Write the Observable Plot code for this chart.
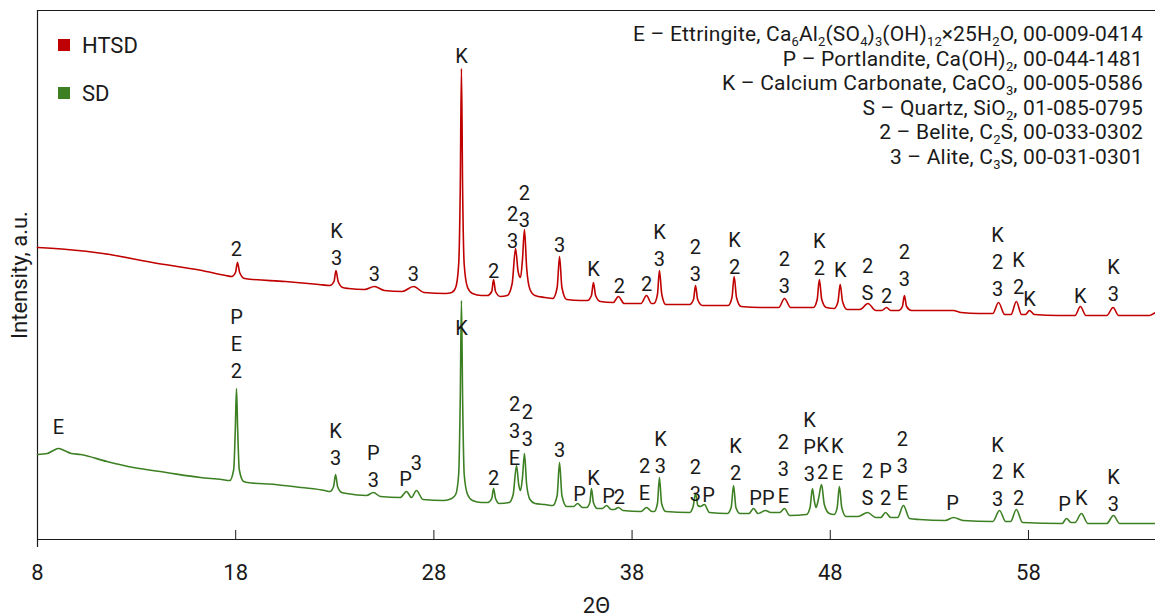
<!DOCTYPE html>
<html><head><meta charset="utf-8">
<script src="https://cdn.jsdelivr.net/npm/d3@7"></script>
<script src="https://cdn.jsdelivr.net/npm/@observablehq/plot@0.6"></script>
<style>
body{margin:0;background:#fff;}
#wrap{position:relative;width:1155px;height:616px;font-family:Roboto,sans-serif;color:#1a1a1a;overflow:hidden;background:#fff}
#wrap svg{position:absolute;left:0;top:0}
.key{position:absolute;left:58px;height:24px;display:flex;align-items:center;font-size:22px;}
.key i{display:inline-block;width:12px;height:12px;margin-right:12px}
#phases{position:absolute;right:12px;top:22px;text-align:right;font-size:21px;letter-spacing:0.2px;line-height:24.5px;white-space:nowrap}
#phases sub{font-size:0.62em;line-height:0;vertical-align:-0.35em;letter-spacing:0}
</style></head>
<body><div id="wrap"></div>
<script>
// ---- data (2Θ, intensity a.u.) ----
const xTicks = [8, 18, 28, 38, 48, 58];
const seriesNames = ["HTSD", "SD"];
const seriesColors = ["#c00000", "#3d8024"];

const htsdPattern = [
[8.0,292],[9.5,290],[11.3,286],[13.8,277],[16.3,269],[17.5,264],
[17.8,263],[17.99,267],[18.09,277],[18.2,267],[18.45,261],
[20.5,258],[22.2,255],
[22.75,254],[22.96,258],[23.06,269],[23.17,258],[23.4,252],
[23.7,251],[24.5,250],[25.0,253],[25.5,249],
[26.4,248],[26.97,253],[27.5,247],[28.6,246],
[28.9,247],[29.1,252],[29.25,275],[29.33,350],[29.39,471],[29.45,350],[29.53,275],[29.7,252],[29.95,246],
[30.4,244],
[30.7,244],[30.92,248],[31.01,260],[31.11,248],[31.35,243],
[31.7,244],[31.95,256],[32.12,291],[32.25,268],[32.37,262],[32.47,280],[32.57,310],[32.68,272],[32.85,250],[33.1,244],
[33.6,242],
[34.0,241],[34.22,252],[34.34,283],[34.46,252],[34.7,240],
[35.4,239],
[35.75,239],[35.95,244],[36.05,257],[36.16,244],[36.4,238],
[37.05,237],[37.31,243],[37.6,236],
[38.45,236],[38.73,244],[38.98,236],
[39.1,236],[39.28,245],[39.38,269],[39.5,245],[39.7,235],
[40.3,235],
[40.9,235],[41.1,240],[41.2,254],[41.31,240],[41.55,234],
[42.2,234],
[42.85,234],[43.04,242],[43.15,263],[43.27,242],[43.5,233],
[44.5,232],
[45.4,232],[45.69,241],[46.0,232],
[46.6,232],
[47.15,232],[47.34,240],[47.45,260],[47.57,240],[47.8,232],
[48.2,231],[48.39,238],[48.5,255],[48.62,238],[48.85,230],
[49.5,230],[49.9,236],[50.3,229],
[50.6,229],[50.84,232],[51.05,229],
[51.45,229],[51.64,233],[51.74,244],[51.85,233],[52.1,229],
[53.5,229],[54.2,229],[54.6,227],[55.5,226],
[56.2,226],[56.49,237],[56.8,225],
[57.12,225],[57.39,238],[57.65,225],
[57.85,225],[58.05,229],[58.3,225],
[59.5,224],
[60.35,224],[60.62,233],[60.9,224],
[61.95,224],[62.27,232],[62.55,224],
[63.5,224],[64.1,224],[64.41,227]
];

const sdPattern = [
[8.0,85],[8.5,86],[8.8,89],[9.06,91],[9.35,89],[9.7,86],[10.17,85],[11.5,78],[12.84,72],[14.5,67],[16.22,62],[17.3,60],
[17.7,59],[17.9,70],[17.98,110],[18.04,151],[18.1,110],[18.18,70],[18.4,58],
[18.6,57],[20.0,55],[21.3,52],[22.5,49],
[22.75,48],[22.94,53],[23.04,65],[23.14,53],[23.35,47],
[23.6,46],[24.6,44],[24.95,47],[25.3,43],
[26.3,42],[26.62,48],[26.87,42],[27.12,49],[27.45,40],
[28.5,39],
[28.9,41],[29.1,45],[29.25,65],[29.33,140],[29.39,239],[29.45,140],[29.53,65],[29.7,45],[29.95,39],
[30.4,37],
[30.72,37],[30.92,41],[31.01,51],[31.11,41],[31.3,36],
[31.8,37],[32.0,45],[32.17,74],[32.28,55],[32.37,49],[32.47,62],[32.57,86],[32.68,55],[32.85,40],[33.1,36],
[33.6,35],
[34.0,34],[34.22,44],[34.34,77],[34.46,44],[34.7,33],
[35.05,33],[35.25,36],[35.5,32],
[35.7,32],[35.87,37],[35.95,51],[36.05,37],[36.25,31],
[36.5,31],[36.71,34],[36.95,30],
[37.1,30],[37.31,32],[37.55,29],
[38.45,28],[38.73,32],[39.0,28],
[39.12,28],[39.28,36],[39.38,62],[39.49,36],[39.7,28],
[40.9,27],[41.08,33],[41.2,46],[41.32,34],[41.45,33],[41.65,35],[41.9,27],
[42.8,26],[43.0,32],[43.12,54],[43.24,32],[43.45,26],
[43.9,26],[44.13,31],[44.35,26],
[44.5,27],[44.73,29],[45.0,27],
[45.45,27],[45.69,31],[45.95,24],
[46.8,25],[46.98,32],[47.10,51],[47.2,38],[47.28,32],[47.4,40],[47.56,55],[47.7,35],[47.95,26],
[48.2,25],[48.35,32],[48.46,53],[48.58,32],[48.8,23],
[49.4,23],[49.88,27],[50.3,22],
[50.55,22],[50.79,27],[51.05,22],
[51.4,22],[51.69,34],[52.0,21],
[52.5,20],[53.8,19],[54.22,22],[54.7,19],
[56.2,18],[56.54,29],[56.85,18],
[57.1,18],[57.39,30],[57.7,17],
[59.7,16],[59.92,21],[60.15,17],
[60.35,17],[60.67,26],[61.0,16],
[61.95,16],[62.29,24],[62.6,16],
[64.41,16]
];

// peak labels: [2Θ, intensity of bottom line, text]
const htsdLabels = [
[18.04,291,"2"],[23.09,282,"K\n3"],[25.0,266,"3"],[26.97,266,"3"],[29.39,484,"K"],
[31.01,269,"2"],[31.97,299,"2\n3"],[32.57,320,"2\n3"],[34.34,295,"3"],[36.05,271,"K"],
[37.36,254,"2"],[38.73,256,"2"],[39.38,281,"K\n3"],[41.2,266,"2\n3"],[43.17,273,"K\n2"],
[45.69,254,"2\n3"],[47.45,272,"K\n2"],[48.51,270,"K"],[49.88,247,"2\nS"],[50.84,244,"2"],
[51.74,261,"2\n3"],[56.44,251,"K\n2\n3"],[57.5,253,"K\n2"],[58.05,241,"K"],[60.62,244,"K"],
[62.29,246,"K\n3"]
];
const sdLabels = [
[9.06,113,"E"],[18.04,169,"P\nE\n2"],[23.04,82,"K\n3"],[24.95,60,"P\n3"],[26.57,61,"P"],
[27.12,77,"3"],[29.39,212,"K"],[31.01,62,"2"],[32.07,82,"2\n3\nE"],[32.72,101,"2\n3"],
[34.34,90,"3"],[35.35,46,"P"],[36.05,62,"K"],[36.81,44,"P"],[37.36,43,"2"],
[38.63,47,"2\nE"],[39.43,74,"K\n3"],[41.2,46,"2\n3"],[41.86,45,"P"],[43.22,67,"K\n2"],
[44.23,42,"P"],[44.88,42,"P"],[45.64,44,"2\n3\nE"],[46.95,66,"K\nP\n3"],[47.61,68,"K\n2"],
[48.36,67,"K\nE"],[49.88,42,"2\nS"],[50.79,42,"P\n2"],[51.64,47,"2\n3\nE"],[54.17,37,"P"],
[56.44,41,"K\n2\n3"],[57.5,42,"K\n2"],[59.82,36,"P"],[60.67,42,"K"],[62.29,36,"K\n3"]
];

const phaseLines = [
 "E – Ettringite, Ca<sub>6</sub>Al<sub>2</sub>(SO<sub>4</sub>)<sub>3</sub>(OH)<sub>12</sub>×25H<sub>2</sub>O, 00-009-0414",
 "P – Portlandite, Ca(OH)<sub>2</sub>, 00-044-1481",
 "K – Calcium Carbonate, CaCO<sub>3</sub>, 00-005-0586",
 "S – Quartz, SiO<sub>2</sub>, 01-085-0795",
 "2 – Belite, C<sub>2</sub>S, 00-033-0302",
 "3 – Alite, C<sub>3</sub>S, 00-031-0301"
];

const yDomain = [0, 529];
const xDomain = [8, 64.41];

const labelStyle = {x: d => d[0], y: d => d[1], text: d => d[2], lineAnchor: "bottom", dy: 7,
  fontSize: 20, lineHeight: 1.33, fill: "#1a1a1a", fontFamily: "Roboto"};

const chart = Plot.plot({
  width: 1155, height: 616,
  marginLeft: 37, marginRight: 0, marginTop: 10, marginBottom: 77,
  x: {domain: xDomain},
  y: {domain: yDomain},
  style: {fontFamily: "Roboto", background: "transparent", color: "#1a1a1a"},
  marks: [
    Plot.axisX({ticks: xTicks, tickSize: -9, tickPadding: 34, fontSize: 22, tickFormat: d => String(d),
      label: "2Θ", labelAnchor: "center", labelOffset: 73, labelArrow: "none", stroke: "#1a1a1a"}),
    Plot.axisY({ticks: [], label: "Intensity, a.u.", labelAnchor: "center", labelOffset: 26, fontSize: 22, labelArrow: "none"}),
    Plot.ruleY([yDomain[0]], {stroke: "#1a1a1a", strokeWidth: 1.2}),
    Plot.ruleY([yDomain[1]], {stroke: "#1a1a1a", strokeWidth: 1.2}),
    Plot.ruleX([xDomain[0]], {stroke: "#1a1a1a", strokeWidth: 1.2, insetBottom: -8}),
    Plot.line(htsdPattern, {x: d => d[0], y: d => d[1], stroke: seriesColors[0], strokeWidth: 1.6, curve: "monotone-x"}),
    Plot.line(sdPattern, {x: d => d[0], y: d => d[1], stroke: seriesColors[1], strokeWidth: 1.6, curve: "monotone-x"}),
    Plot.text(htsdLabels, labelStyle),
    Plot.text(sdLabels, labelStyle)
  ]
});

const wrap = document.getElementById("wrap");
wrap.appendChild(chart);

seriesNames.forEach((name, i) => {
  const k = document.createElement("div");
  k.className = "key";
  k.style.top = (33 + i * 48) + "px";
  k.innerHTML = `<i style="background:${seriesColors[i]}"></i>${name}`;
  wrap.appendChild(k);
});
const ph = document.createElement("div");
ph.id = "phases";
ph.innerHTML = phaseLines.map(s => `<div>${s}</div>`).join("");
wrap.appendChild(ph);
</script>
</body></html>
